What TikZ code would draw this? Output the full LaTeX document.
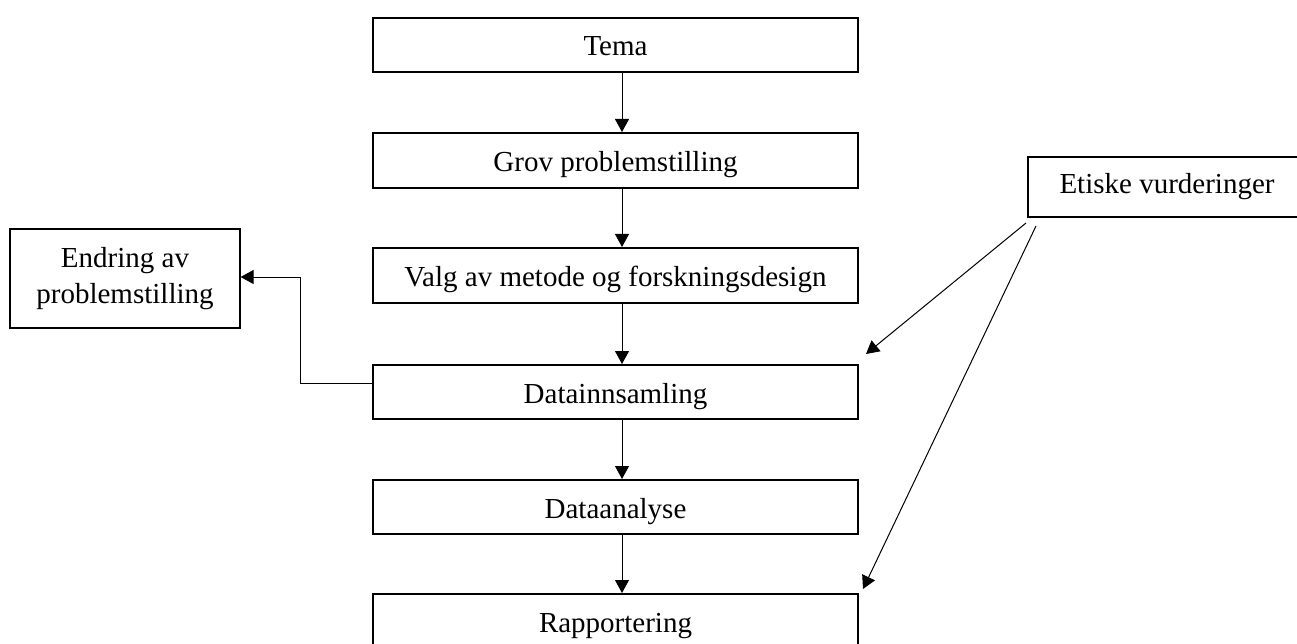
\documentclass[tikz,border=0pt]{standalone}
\usepackage{fontspec}
\setmainfont{Liberation Serif}
\usetikzlibrary{arrows.meta}
\begin{document}
\begin{tikzpicture}[x=1pt,y=-1pt,
  box/.style={draw,line width=2pt,minimum width=485pt,minimum height=54pt,inner sep=0pt,text height=22pt,text depth=0pt,font=\fontsize{29}{36}\selectfont},
  sidebox/.style={draw,line width=1.2pt,inner sep=0pt,align=center,font=\fontsize{29}{36}\selectfont},
  arr/.style={line width=1pt,-{Triangle[length=13pt,width=14pt]}}]
\useasboundingbox (0,0) rectangle (1297,644);
\node[box] (tema) at (615.5,45) {Tema};
\node[box,minimum height=55pt] (grov) at (615.5,160.5) {Grov problemstilling};
\node[box,minimum height=55pt] (valg) at (615.5,275.5) {Valg av metode og forskningsdesign};
\node[box] (data) at (615.5,392) {Datainnsamling};
\node[box] (anal) at (615.5,507) {Dataanalyse};
\node[box] (rapp) at (615.5,621) {Rapportering};
\node[sidebox,line width=2pt,minimum width=278pt,minimum height=60pt] (etisk) at (1167,187) {Etiske vurderinger};
\node[sidebox,minimum width=230pt,minimum height=99pt] (endr) at (125,278.5) {Endring av\\problemstilling};
\draw[arr] ([xshift=6.5pt]tema.south) -- ([xshift=6.5pt]grov.north);
\draw[arr] ([xshift=6.5pt]grov.south) -- ([xshift=6.5pt]valg.north);
\draw[arr] ([xshift=6.5pt]valg.south) -- ([xshift=6.5pt]data.north);
\draw[arr] ([xshift=6.5pt]data.south) -- ([xshift=6.5pt]anal.north);
\draw[arr] ([xshift=6.5pt]anal.south) -- ([xshift=6.5pt]rapp.north);
\draw[arr] ([yshift=9pt]data.west) -- ++(-72,0) |- ([yshift=1.5pt]endr.east);
\draw[arr] ([shift={(-1,5)}]etisk.south west) -- ([shift={(7,-10)}]data.north east);
\draw[arr] ([shift={(9,8)}]etisk.south west) -- ([shift={(4,-4)}]rapp.north east);
\end{tikzpicture}
\end{document}
